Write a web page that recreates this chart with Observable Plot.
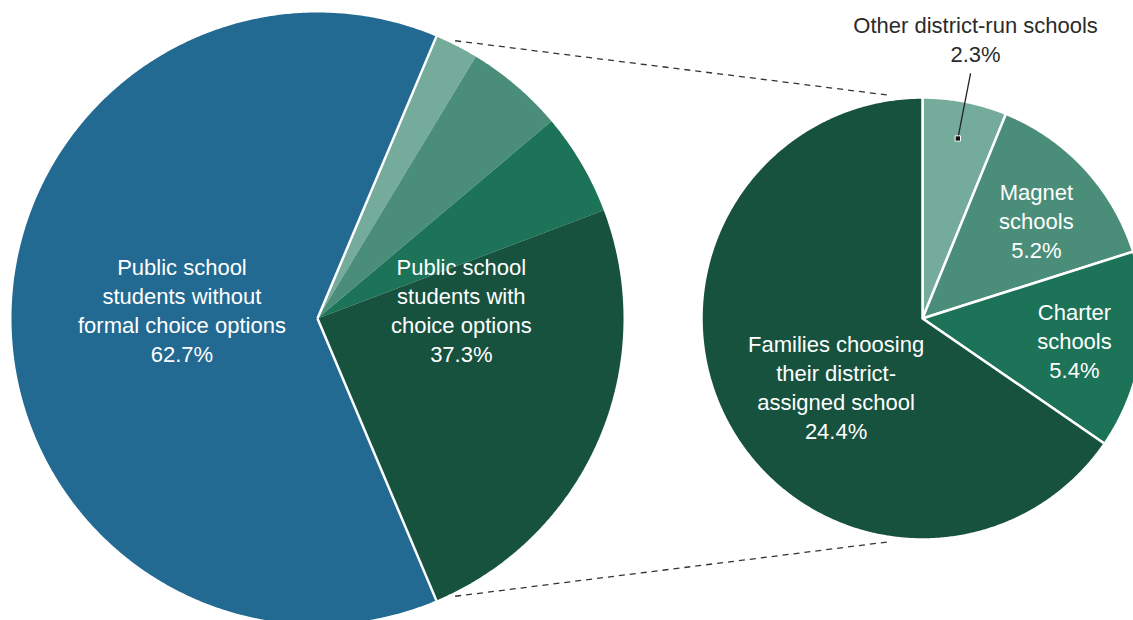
<!DOCTYPE html>
<html><head><meta charset="utf-8">
<script src="https://cdn.jsdelivr.net/npm/d3@7"></script>
<script src="https://cdn.jsdelivr.net/npm/@observablehq/plot@0.6"></script>
<style>html,body{margin:0;padding:0;background:#fff;overflow:hidden}</style>
</head><body><div id="chart"></div>
<script>
// ---- data ----
const groupNames = ["Public school students without formal choice options", "Public school students with choice options"];
const groupValues = [62.7, 37.3];
const groupLabels = ["Public school\nstudents without\nformal choice options\n62.7%", "Public school\nstudents with\nchoice options\n37.3%"];
const choiceNames = ["Other district-run schools", "Magnet schools", "Charter schools", "Families choosing their district-assigned school"];
const choiceValues = [2.3, 5.2, 5.4, 24.4];
const choiceLabels = ["Other district-run schools\n2.3%", "Magnet\nschools\n5.2%", "Charter\nschools\n5.4%", "Families choosing\ntheir district-\nassigned school\n24.4%"];

// ---- styles / layout ----
const groupColor = "#236a93";
const choiceColors = ["#75ab9b", "#4a8e7a", "#1c7358", "#17523f"];
const W = 1133, H = 620;
const L = {cx: 317, cy: 318, r: 306};
const R = {cx: 922, cy: 318, r: 221};
const FONT = "'Liberation Sans', Arial, sans-serif";

const rad = a => a * Math.PI / 180;
const pt = (c, r, a) => ({x: c.cx + r * Math.sin(rad(a)), y: c.cy - r * Math.cos(rad(a))});
function wedge(c, a0, a1, key, color) {
  const pts = [{x: c.cx, y: c.cy, key, color}];
  const n = Math.max(2, Math.ceil((a1 - a0) / 0.4));
  for (let i = 0; i <= n; i++) {
    const p = pt(c, c.r, a0 + (a1 - a0) * i / n);
    pts.push({...p, key, color});
  }
  pts.push({x: c.cx, y: c.cy, key, color});
  return pts;
}

// left pie: choice group centred on the east direction
const total = d3.sum(groupValues);
const greenSpan = groupValues[1] / total * 360;
const start0 = 90 - greenSpan / 2;
const leftPts = [];
let a = start0;
choiceValues.forEach((v, i) => {
  const s = v / total * 360;
  leftPts.push(...wedge(L, a, a + s, "L" + i, choiceColors[i]));
  a += s;
});
leftPts.push(...wedge(L, a, start0 + 360, "Lblue", groupColor));
const greenEnd = start0 + greenSpan;

// right pie: choice breakdown normalised
const choiceTotal = d3.sum(choiceValues);
const rightPts = [];
const rightMid = [];
a = 0;
choiceValues.forEach((v, i) => {
  const s = v / choiceTotal * 360;
  rightPts.push(...wedge(R, a, a + s, "R" + i, choiceColors[i]));
  rightMid.push(a + s / 2);
  a += s;
});

// separators on left pie
const sepLinks = [start0, greenEnd].map(ang => ({p1: pt(L, 0, ang), p2: pt(L, L.r + 1, ang)}));

// dashed connectors
const connectors = [
  {p1: pt(L, L.r + 4, start0 + 3.5), p2: pt(R, R.r + 5, -8.7)},
  {p1: pt(L, L.r + 4, greenEnd - 3.5), p2: pt(R, R.r + 5, 188.7)}
];

// labels
const leftLabelPos = [
  {...pt(L, L.r * 0.443, 270), text: groupLabels[0]},
  {...pt(L, L.r * 0.47, 90), text: groupLabels[1]}
];
leftLabelPos.forEach(d => d.y -= 9);
const rightLabelLayout = [null, {f: 0.68, da: 2, dy: -1}, {f: 0.696, da: 0.5, dy: -2.5}, {f: 0.505, da: -11.5, dy: -2.5}];
const rightLabelPos = [];
choiceLabels.forEach((t, i) => {
  const l = rightLabelLayout[i];
  if (!l) return;
  const p = pt(R, R.r * l.f, rightMid[i] + l.da);
  rightLabelPos.push({x: p.x, y: p.y + l.dy, text: t});
});
const leaderStart = pt(R, R.r * 0.83, rightMid[0]);
const leaderEnd = pt(R, R.r * 1.13, rightMid[0]);
const otherLabel = [{x: leaderEnd.x + 5, y: leaderEnd.y - 11, text: choiceLabels[0]}];

const chart = Plot.plot({
  width: W, height: H, margin: 0,
  x: {domain: [0, W], range: [0, W], axis: null},
  y: {domain: [0, H], range: [0, H], axis: null},
  color: {type: "identity"},
  style: {background: "#fff", fontFamily: FONT},
  marks: [
    Plot.line(leftPts, {x: "x", y: "y", z: "key", fill: "color", stroke: "none", curve: "linear"}),
    Plot.link(sepLinks, {x1: d => d.p1.x, y1: d => d.p1.y, x2: d => d.p2.x, y2: d => d.p2.y, stroke: "#fff", strokeWidth: 2.5}),
    Plot.line(rightPts, {x: "x", y: "y", z: "key", fill: "color", stroke: "#fff", strokeWidth: 2.5, strokeLinejoin: "round", curve: "linear"}),
    Plot.link(connectors, {x1: d => d.p1.x, y1: d => d.p1.y, x2: d => d.p2.x, y2: d => d.p2.y, stroke: "#333", strokeWidth: 1.3, strokeDasharray: "6,5"}),
    Plot.link([{p1: leaderStart, p2: leaderEnd}], {x1: d => d.p1.x, y1: d => d.p1.y, x2: d => d.p2.x, y2: d => d.p2.y, stroke: "#222", strokeWidth: 1.3}),
    Plot.dot([leaderStart], {x: "x", y: "y", symbol: "square", r: 3, fill: "#111", stroke: "#fff", strokeWidth: 1}),
    Plot.text(leftLabelPos, {x: "x", y: "y", text: "text", fill: "#fff", fontSize: 22, lineHeight: 1.32, fontFamily: FONT, textAnchor: "middle"}),
    Plot.text(rightLabelPos, {x: "x", y: "y", text: "text", fill: "#fff", fontSize: 22, lineHeight: 1.32, fontFamily: FONT, textAnchor: "middle"}),
    Plot.text(otherLabel, {x: "x", y: "y", text: "text", fill: "#2b2b2b", fontSize: 22, lineHeight: 1.32, fontFamily: FONT, textAnchor: "middle", lineAnchor: "bottom"})
  ]
});
document.getElementById("chart").appendChild(chart);
</script>
</body></html>
